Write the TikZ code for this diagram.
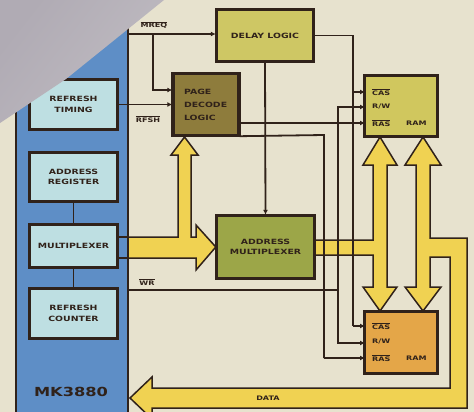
\documentclass[tikz,border=0pt]{standalone}
\usepackage{fontspec}
\newfontfamily\lblfont[FakeStretch=1.3]{DejaVu Sans}
\usetikzlibrary{arrows.meta}
\definecolor{bg}{RGB}{231,226,206}
\definecolor{foldc}{RGB}{176,171,180}
\definecolor{foldl}{RGB}{192,188,194}
\definecolor{panel}{RGB}{94,142,198}
\definecolor{lblue}{RGB}{190,223,226}
\definecolor{pdc}{RGB}{142,124,60}
\definecolor{dlc}{RGB}{206,199,100}
\definecolor{amc}{RGB}{156,166,72}
\definecolor{ramA}{RGB}{208,199,94}
\definecolor{ramB}{RGB}{228,166,72}
\definecolor{busc}{RGB}{240,210,82}
\definecolor{ink}{RGB}{48,34,26}
\newcommand{\ovl}[1]{$\overline{\hbox{#1}}$}
\begin{document}
\begin{tikzpicture}[x=1pt,y=-1pt,
  box/.style={draw=ink, line width=2.4pt, inner sep=0pt, align=center,
    font=\lblfont\bfseries\fontsize{7.2}{10.5}\selectfont, text=ink},
  sig/.style={draw=ink, line width=1.8pt, -{Latex[length=5pt,width=5pt]}},
  wire/.style={draw=ink, line width=1.8pt},
  busst/.style={fill=busc, draw=ink, line width=1.5pt, line join=miter},
  lbl/.style={inner sep=0pt, text=ink, font=\lblfont\bfseries\fontsize{6.2}{7}\selectfont}]
\clip (0,0) rectangle (474,412);
\fill[bg] (0,0) rectangle (474,412);
% blue panel
\fill[panel] (16,-5) rectangle (128,420);
\draw[ink, line width=2.2pt] (16,-5) -- (16,420) (128,-5) -- (128,420);
% coordinates
\coordinate (mreqS) at (128,34);
\coordinate (wrS) at (128,290);
\coordinate (casA) at (365,92);
\coordinate (rwA) at (365,107);
\coordinate (rasA) at (365,123);
\coordinate (casB) at (365,326);
\coordinate (rwB) at (365,343);
\coordinate (rasB) at (365,358);
% boxes
\node[box, fill=lblue, minimum width=87pt, minimum height=49pt] (rt) at (73.5,104.5) {REFRESH\\TIMING};
\node[box, fill=lblue, minimum width=87pt, minimum height=48pt] (ar) at (73.5,177) {ADDRESS\\REGISTER};
\node[box, fill=lblue, minimum width=87pt, minimum height=42pt] (mx) at (73.5,246) {MULTIPLEXER};
\node[box, fill=lblue, minimum width=87pt, minimum height=49pt] (rc) at (73.5,313.5) {REFRESH\\COUNTER};
\node[box, fill=pdc, minimum width=65pt, minimum height=61pt, align=left, text width=44pt, font=\lblfont\bfseries\fontsize{7.2}{13}\selectfont] (pd) at (206,104.5) {PAGE\\DECODE\\LOGIC};
\node[box, fill=dlc, minimum width=96pt, minimum height=51pt] (dl) at (265,35.5) {DELAY LOGIC};
\node[box, fill=amc, minimum width=97pt, minimum height=62pt] (am) at (265.5,247) {ADDRESS\\MULTIPLEXER};
\node[box, fill=ramA, minimum width=72pt, minimum height=60pt] (rA) at (401,106) {};
\node[box, fill=ramB, minimum width=72pt, minimum height=61pt] (rB) at (401,342.5) {};
% buses
\path[busst] (128,237) -- (178,237) -- (178,155) -- (171,155) -- (184.5,137) -- (198,155) -- (191,155) -- (191,237)
  -- (196,237) -- (196,225) -- (am.west) -- (196,270) -- (196,258) -- (128,258) -- cycle;
\draw[wire] (mx.east |- 0,237) -- (128,237) (mx.east |- 0,258) -- (128,258);
\path[busst] (314,240) -- (373,240) -- (373,165) -- (363,165) -- (380,137) -- (397,165) -- (387,165) -- (387,287)
  -- (397,287) -- (380,311) -- (363,287) -- (373,287) -- (373,255) -- (314,255) -- cycle;
\path[busst] (416,165) -- (405,165) -- (423,137) -- (441,165) -- (430,165) -- (430,238) -- (467,238) -- (467,408)
  -- (152,408) -- (152,419) -- (130,398) -- (152,377) -- (152,388) -- (450,388) -- (450,257) -- (430,257)
  -- (430,287) -- (441,287) -- (423,311) -- (405,287) -- (416,287) -- cycle;
% wires
\draw[sig] (mreqS) -- (mreqS -| dl.west);
\draw[sig] (153,34) -- (153,90) -- (pd.west |- 0,90);
\draw[sig] (rt.east) -- (pd.west);
\draw[sig] (dl.south) -- (am.north);
\draw[wire] (dl.east) -- (353,35.5) -- (353,326);
\draw[sig] (353,326) -- (casB);
\draw[sig] (353,92) -- (casA);
\draw[sig] (pd.east |- rasA) -- (rasA);
\draw[wire] (pd.south east) -- (324,135) -- (324,358);
\draw[sig] (324,358) -- (rasB);
\draw[wire] (wrS) -- (338,290);
\draw[sig] (338,290) |- (rwA);
\draw[sig] (338,290) |- (rwB);
\draw[wire] (ar.south) -- (mx.north) (mx.south) -- (rc.north);
% redraw box borders over wires' ends
\foreach \n in {rt,ar,mx,rc,pd,dl,am,rA,rB} \draw[ink, line width=2.4pt] (\n.north west) rectangle (\n.south east);
% labels
\node[lbl, anchor=west] (tcasA) at (372,92) {\ovl{CAS}};
\node[lbl, anchor=west] (trwA) at (372,107) {R/W};
\node[lbl, anchor=west] (trasA) at (372,123) {\ovl{RAS}};
\node[lbl, anchor=west] (tramA) at (406,123) {RAM};
\node[lbl, anchor=west] (tcasB) at (372,326) {\ovl{CAS}};
\node[lbl, anchor=west] (trwB) at (372,342) {R/W};
\node[lbl, anchor=west] (trasB) at (372,358) {\ovl{RAS}};
\node[lbl, anchor=west] (tramB) at (406,358) {RAM};
\node[lbl] (tmreq) at (154,25) {\ovl{MREQ}};
\node[lbl] (trfsh) at (148,119) {\ovl{RFSH}};
\node[lbl] (twr) at (147,282) {\ovl{WR}};
\node[lbl] (tdata) at (268,398) {DATA};
\node[inner sep=0pt, text=ink, font=\lblfont\bfseries\fontsize{12.5}{14}\selectfont] (tmk) at (71,392) {MK3880};
% paper fold
\shade[left color=foldc, right color=foldl, shading angle=52] (0,0) -- (164,0) -- (66,79) -- (0,123) -- cycle;
\end{tikzpicture}
\end{document}
